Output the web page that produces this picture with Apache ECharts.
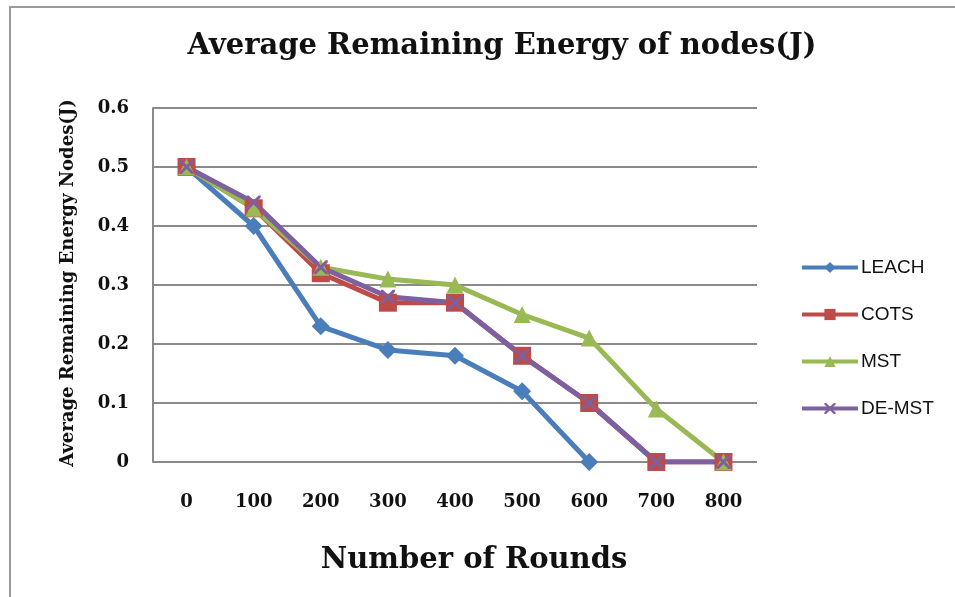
<!DOCTYPE html>
<html>
<head>
<meta charset="utf-8">
<script src="https://cdn.jsdelivr.net/npm/echarts@6/dist/echarts.min.js"></script>
<style>html,body{margin:0;padding:0;background:#fff;}#c{width:955px;height:597px;}</style>
</head>
<body>
<div id="c"></div>
<script>
const categories = ['0','100','200','300','400','500','600','700','800'];
const leach = [0.5, 0.4, 0.23, 0.19, 0.18, 0.12, 0, null, null];
const cots = [0.5, 0.43, 0.32, 0.27, 0.27, 0.18, 0.1, 0, 0];
const mst = [0.5, 0.43, 0.33, 0.31, 0.30, 0.25, 0.21, 0.09, 0];
const demst = [0.5, 0.44, 0.33, 0.28, 0.27, 0.18, 0.1, 0, 0];
const yTicks = [0, 0.1, 0.2, 0.3, 0.4, 0.5, 0.6];

const xPath = 'path://M0,0L1.5,0L5,3.5L8.5,0L10,0L10,1.5L6.5,5L10,8.5L10,10L8.5,10L5,6.5L1.5,10L0,10L0,8.5L3.5,5L0,1.5Z';
const chart = echarts.init(document.getElementById('c'));
const serifBold = {fontFamily: 'DejaVu Serif', fontWeight: 'bold', color: '#111'};
function mk(name, data, color, symbol, size) {
  return {
    name, type: 'line', data, symbol, symbolSize: size,
    lineStyle: {color, width: 5}, itemStyle: {color},
    connectNulls: false, animation: false
  };
}
chart.setOption({
  animation: false,
  grid: {left: 153, right: 198, top: 108, bottom: 135},
  graphic: [
    {type: 'rect', shape: {x: 10, y: 7, width: 1200, height: 1200}, style: {fill: 'none', stroke: '#9a9a9a', lineWidth: 2}},
    {type: 'text', x: 502, y: 46, style: {text: 'Average Remaining Energy of nodes(J)', fontSize: 29, fontFamily: 'DejaVu Serif', fontWeight: 'bold', textAlign: 'center', textVerticalAlign: 'middle', fill: '#111'}},
    {type: 'text', x: 474, y: 560, style: {text: 'Number of Rounds', fontSize: 29, fontFamily: 'DejaVu Serif', fontWeight: 'bold', textAlign: 'center', textVerticalAlign: 'middle', fill: '#111'}},
    {type: 'text', x: 68, y: 283, rotation: Math.PI / 2, style: {text: 'Average Remaining Energy Nodes(J)', fontSize: 18, fontFamily: 'DejaVu Serif', fontWeight: 'bold', textAlign: 'center', textVerticalAlign: 'middle', fill: '#111'}}
  ],
  legend: {
    orient: 'vertical', left: 795, top: 253, itemWidth: 56, itemHeight: 14, itemGap: 28,
    lineStyle: {width: 4},
    textStyle: {fontFamily: 'Liberation Sans', fontSize: 19, color: '#111', padding: [0,0,0,-2]},
    data: ['LEACH', 'COTS', 'MST', 'DE-MST']
  },
  xAxis: {
    type: 'category', data: categories, boundaryGap: true,
    axisLine: {show: false}, axisTick: {show: false},
    axisLabel: Object.assign({fontSize: 18, margin: 31}, serifBold)
  },
  yAxis: {
    type: 'value', min: 0, max: 0.6, interval: 0.1,
    axisLine: {show: true, lineStyle: {color: '#8a8a8a', width: 2}},
    axisTick: {show: false},
    splitLine: {lineStyle: {color: '#8a8a8a', width: 2}},
    axisLabel: Object.assign({fontSize: 18, margin: 24, formatter: v => String(parseFloat(v.toFixed(1)))}, serifBold)
  },
  series: [
    mk('LEACH', leach, '#4A7EBB', 'diamond', 18),
    mk('COTS', cots, '#BE4B48', 'rect', 18),
    mk('MST', mst, '#98B954', 'triangle', 17),
    mk('DE-MST', demst, '#7D60A0', xPath, 14)
  ]
});
</script>
</body>
</html>
